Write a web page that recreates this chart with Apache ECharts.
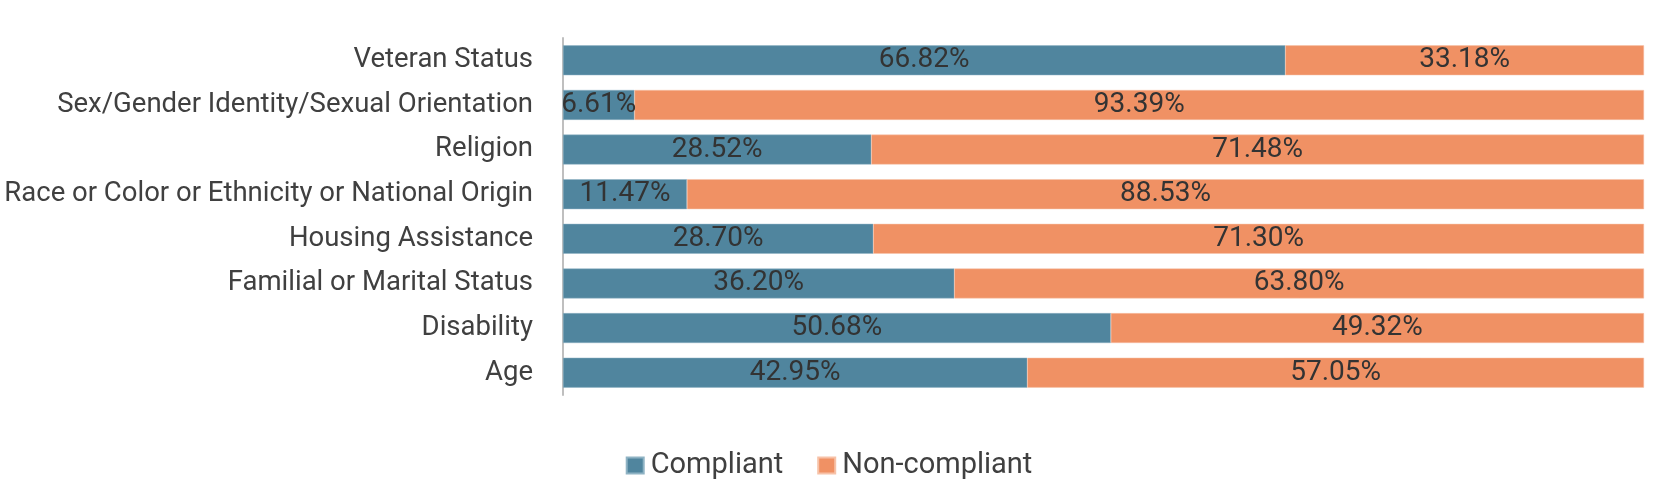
<!DOCTYPE html>
<html>
<head>
<meta charset="utf-8">
<script src="https://cdn.jsdelivr.net/npm/echarts@6/dist/echarts.min.js"></script>
<style>html,body{margin:0;padding:0;background:#fff;}#c{width:1658px;height:485px;}</style>
</head>
<body>
<div id="c"></div>
<script>
const categories = ["Veteran Status","Sex/Gender Identity/Sexual Orientation","Religion","Race or Color or Ethnicity or National Origin","Housing Assistance","Familial or Marital Status","Disability","Age"];
const compliant = [66.82, 6.61, 28.52, 11.47, 28.70, 36.20, 50.68, 42.95];
const nonCompliant = [33.18, 93.39, 71.48, 88.53, 71.30, 63.80, 49.32, 57.05];
const seriesNames = ["Compliant", "Non-compliant"];

const FONT = "Roboto";
const chart = echarts.init(document.getElementById('c'), null, {renderer: 'canvas'});
const labelCfg = {
  show: true, position: 'inside', color: '#333333', fontSize: 28, fontFamily: FONT,
  formatter: p => p.value.toFixed(2) + '%'
};
chart.setOption({
  animation: false,
  textStyle: {fontFamily: FONT},
  grid: {left: 563, right: 14, top: 38, bottom: 90, containLabel: false},
  legend: {
    data: seriesNames, left: 'center', top: 446, itemWidth: 17, itemHeight: 16, itemGap: 34,
    icon: 'rect',
    textStyle: {fontSize: 29, color: '#404040', fontFamily: FONT, padding: [0, 0, 0, 2]}
  },
  xAxis: {type: 'value', min: 0, max: 100, show: false},
  yAxis: {
    type: 'category', data: categories, inverse: true,
    axisLine: {show: true, lineStyle: {color: '#bfbfbf', width: 2}},
    axisTick: {show: false},
    axisLabel: {fontSize: 27.5, color: '#404040', margin: 30, fontFamily: FONT}
  },
  series: [
    {name: seriesNames[0], type: 'bar', stack: 't', data: compliant, barCategoryGap: '33%',
     itemStyle: {color: '#50859E', borderColor: '#8fb3c4', borderWidth: 0.5}, label: labelCfg},
    {name: seriesNames[1], type: 'bar', stack: 't', data: nonCompliant, barCategoryGap: '33%',
     itemStyle: {color: '#F09164', borderColor: '#f7c2a8', borderWidth: 0.5}, label: labelCfg}
  ]
});
</script>
</body>
</html>
